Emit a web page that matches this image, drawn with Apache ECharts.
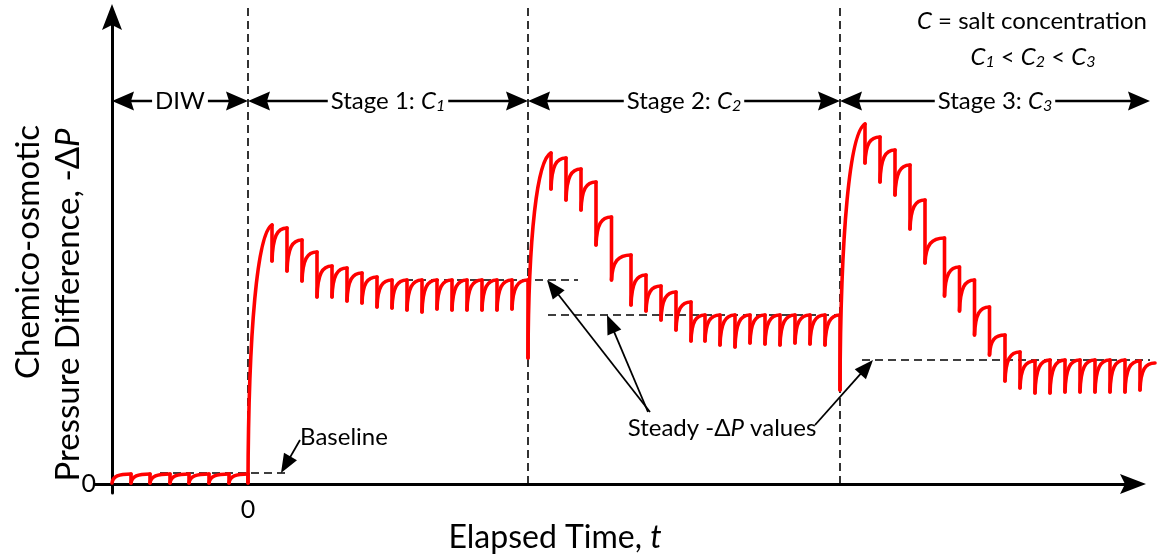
<!DOCTYPE html>
<html>
<head>
<meta charset="utf-8">
<script src="https://cdn.jsdelivr.net/npm/echarts@6/dist/echarts.min.js"></script>
<style>
  html, body { margin: 0; padding: 0; background: #fff; }
  #chart { width: 1160px; height: 560px; }
</style>
</head>
<body>
<div id="chart"></div>
<script>
// ---------------------------------------------------------------
// Chemico-osmotic pressure difference (-ΔP) against elapsed time.
// Time 0 = switch from de-ionised water (DIW) to the first salt solution.
// Each stage: a ramp up, then a saw-tooth of pressure releases that
// settles onto a steady -ΔP value.
// ---------------------------------------------------------------

// where the trace begins (start of the DIW period)
const curveStart = [-68, 0.5];

// DIW period: time of each release, value just before, value just after
const diwDropX   = [-58.5, -49, -39, -29.5, -19.5, -9.5, 0];
const diwPeak    = [5, 5, 5, 5, 5, 5, 5];
const diwTrough  = [0.5, 0.5, 0.5, 0.5, 0.5, 0.5, 0.5];

// Stage 1 (C1)
const s1DropX  = [12, 19.5, 27, 34.5, 42, 49.5, 57, 64.5, 72, 79.5, 87, 94.5, 102, 109.5, 117, 124.5, 132, 140];
const s1Peak   = [129.5, 128, 122, 116, 109, 108, 105.5, 103.5, 102, 102, 102, 102, 102, 102, 102, 102, 102, 102];
const s1Trough = [111.5, 106.5, 101.5, 93.5, 93.5, 91.5, 90.5, 88.5, 88, 87, 86, 87.5, 87, 87, 87, 87, 87.5, 63];

// Stage 2 (C2)
const s2DropX  = [151.5, 159, 166.5, 174, 181.75, 191.5, 199, 206.5, 214, 221.5, 228.5, 236, 243.5, 251, 258.5, 266, 273.5, 281, 288.5, 296];
const s2Peak   = [165.5, 163, 157.5, 151, 133.5, 114.5, 104.5, 99, 96, 91, 84.5, 84.5, 84.5, 84.5, 84.5, 84.5, 84.5, 84.5, 84.5, 84.5];
const s2Trough = [147.5, 142, 137, 119.5, 102, 89.5, 86.5, 82, 77, 71.5, 71.5, 69.5, 68.5, 70.5, 70, 69.5, 70.5, 70, 69.5, 47];

// Stage 3 (C3) – the last point is the end of the record
const s3DropX  = [308.5, 316, 323.5, 331, 338.5, 348.25, 355.75, 363.25, 370.75, 378.5, 386, 393.5, 401, 408.5, 416, 423.5, 431, 438.5, 446, 453.5];
const s3Peak   = [180, 173.5, 167, 159.5, 142, 123, 108.5, 102, 88.5, 74.5, 66, 61.5, 62, 62, 62, 62, 62, 62, 61.5, 60.5];
const s3Trough = [160.5, 151, 144.5, 127.5, 110.5, 94, 86.5, 74.5, 64.5, 51.5, 48, 45.5, 45.5, 46, 46, 46, 46, 46, 47];

// stage boundaries on the time axis and their labels
const stageBounds = [-68, 0, 140, 296, 451];
const stageNames  = ['DIW', 'Stage 1: ', 'Stage 2: ', 'Stage 3: '];
const stageConc   = ['', '1', '2', '3'];

// baseline and steady -ΔP values, with the time span of each dashed guide
const steadyValues = [5.5, 102, 84.5, 62];
const steadyFrom   = [-44, 78.5, 150, 307];
const steadyTo     = [21, 165, 294.5, 451];

// callout arrows: time at which each arrow touches its guide line
const pointerTipX  = [16.5, 149.5, 179.5, 312.5];

// axis tick labels
const xTickValues = [0];
const yTickValues = [0];

// ---------------------------------------------------------------
const FONT = 'Lato, "Open Sans", sans-serif';
const RED = '#ff0000';
const BLACK = '#000000';
const AXIS_ARROW = 'path://M0,0 L10,26 L0,21 L-10,26 Z';

// control-point fractions for the rising parts of the trace
const TOOTH_SHAPE = [0.05, 0.75, 0.35, 1.0];
const RAMP_SHAPE  = [0.02, 0.6, 0.4, 0.97];

// assemble the trace into rising segments, each followed by a sudden drop
const stages = [
  { x: diwDropX, peak: diwPeak, trough: diwTrough, ramp: false },
  { x: s1DropX,  peak: s1Peak,  trough: s1Trough,  ramp: true },
  { x: s2DropX,  peak: s2Peak,  trough: s2Trough,  ramp: true },
  { x: s3DropX,  peak: s3Peak,  trough: s3Trough,  ramp: true }
];
const segments = [];
(function () {
  let cur = curveStart.slice();
  stages.forEach(st => {
    st.x.forEach((x, i) => {
      const seg = { from: cur, to: [x, st.peak[i]], ramp: st.ramp && i === 0 };
      if (i < st.trough.length) {
        seg.dropTo = st.trough[i];
        cur = [x, st.trough[i]];
      }
      segments.push(seg);
    });
  });
})();

function renderTrace(params, api) {
  const children = [];
  const style = { stroke: RED, lineWidth: 3.6, fill: null, lineCap: 'round', lineJoin: 'round' };
  segments.forEach(sg => {
    const a = api.coord(sg.from);
    const b = api.coord(sg.to);
    const w = b[0] - a[0];
    const h = a[1] - b[1];
    const k = sg.ramp ? RAMP_SHAPE : TOOTH_SHAPE;
    children.push({
      type: 'bezierCurve',
      shape: {
        x1: a[0], y1: a[1],
        cpx1: a[0] + k[0] * w, cpy1: a[1] - k[1] * h,
        cpx2: a[0] + k[2] * w, cpy2: a[1] - k[3] * h,
        x2: b[0], y2: b[1]
      },
      style: style
    });
    if (sg.dropTo !== undefined) {
      const c = api.coord([sg.to[0], sg.dropTo]);
      children.push({ type: 'line', shape: { x1: b[0], y1: b[1], x2: c[0], y2: c[1] }, style: style });
    }
  });
  return { type: 'group', children: children };
}

function arrowHead(tip, dirX, dirY, len, half, notch) {
  const nx = -dirY, ny = dirX;
  const bx = tip[0] - dirX * len, by = tip[1] - dirY * len;
  const mx = tip[0] - dirX * (len - notch), my = tip[1] - dirY * (len - notch);
  return {
    type: 'polygon',
    shape: { points: [tip, [bx + nx * half, by + ny * half], [mx, my], [bx - nx * half, by - ny * half]] },
    style: { fill: BLACK }
  };
}

function renderNotes(params, api) {
  const children = [];
  const dashed = { stroke: BLACK, lineWidth: 1.6, lineDash: [8, 5], fill: null };
  const yZero = api.coord([0, 0])[1];
  const topY = 6;
  const arrowRowY = 101;

  // stage boundaries
  for (let i = 1; i < stageBounds.length - 1; i++) {
    const x = api.coord([stageBounds[i], 0])[0];
    children.push({ type: 'line', shape: { x1: x, y1: yZero, x2: x, y2: topY }, style: dashed });
  }

  // baseline and steady value guides
  steadyValues.forEach((v, i) => {
    const a = api.coord([steadyFrom[i], v]);
    const b = api.coord([steadyTo[i], v]);
    children.push({ type: 'line', shape: { x1: a[0], y1: a[1], x2: b[0], y2: b[1] }, style: dashed });
  });

  // stage spans with double-headed arrows
  for (let i = 0; i < stageNames.length; i++) {
    const xa = api.coord([stageBounds[i], 0])[0];
    const xb = api.coord([stageBounds[i + 1], 0])[0];
    children.push({ type: 'line', shape: { x1: xa + 10, y1: arrowRowY, x2: xb - 10, y2: arrowRowY },
      style: { stroke: BLACK, lineWidth: 2.6 } });
    children.push(arrowHead([xa, arrowRowY], -1, 0, 22, 9.5, 3));
    children.push(arrowHead([xb, arrowRowY], 1, 0, 22, 9.5, 3));
    const txt = stageConc[i] ? stageNames[i] + '{c|C}{s|' + stageConc[i] + '}' : stageNames[i];
    children.push({
      type: 'text', x: (xa + xb) / 2, y: arrowRowY, z2: 10,
      style: {
        text: txt, fill: BLACK, fontSize: 24, fontFamily: FONT, lineHeight: 26,
        align: 'center', verticalAlign: 'middle', backgroundColor: '#fff', padding: [0, 3],
        rich: {
          c: { fontSize: 24, fontFamily: FONT, fontStyle: 'italic', lineHeight: 26, fill: BLACK },
          s: { fontSize: 16, fontFamily: FONT, fontStyle: 'italic', lineHeight: 10, verticalAlign: 'bottom', fill: BLACK }
        }
      }
    });
  }

  // callout arrows from the annotation texts
  const tails = [[300, 440], [650, 412], [648, 412], [815, 425]];
  pointerTipX.forEach((x, i) => {
    const tip = api.coord([x, steadyValues[i]]);
    const t = tails[i];
    const dx = tip[0] - t[0], dy = tip[1] - t[1];
    const L = Math.sqrt(dx * dx + dy * dy);
    const ux = dx / L, uy = dy / L;
    children.push({ type: 'line', shape: { x1: t[0], y1: t[1], x2: tip[0] - ux * 12, y2: tip[1] - uy * 12 },
      style: { stroke: BLACK, lineWidth: 1.8 } });
    children.push(arrowHead(tip, ux, uy, 19, 7.5, 0));
  });

  return { type: 'group', children: children };
}

const textBase = { fill: BLACK, fontFamily: FONT };

const option = {
  animation: false,
  backgroundColor: '#fff',
  grid: { left: 95, right: 27, top: 17, bottom: 67, outerBoundsMode: 'none' },
  xAxis: {
    type: 'value', min: -76.5, max: 442.5,
    axisLine: { onZero: true, symbol: ['none', AXIS_ARROW], symbolSize: [20, 26],
      lineStyle: { color: BLACK, width: 3 } },
    axisTick: { show: false },
    splitLine: { show: false },
    axisLabel: { customValues: xTickValues, color: BLACK, fontSize: 25, fontFamily: FONT, margin: 4 }
  },
  yAxis: {
    type: 'value', min: -4.5, max: 233.5, offset: -17,
    axisLine: { show: true, onZero: false, symbol: ['none', AXIS_ARROW], symbolSize: [20, 26],
      lineStyle: { color: BLACK, width: 3 } },
    axisTick: { show: false },
    splitLine: { show: false },
    axisLabel: { customValues: yTickValues, color: BLACK, fontSize: 25, fontFamily: FONT, margin: 16 }
  },
  series: [
    { type: 'custom', name: 'annotations', coordinateSystem: 'cartesian2d', renderItem: renderNotes,
      data: [[0, 0]], silent: true, clip: false, z: 2 },
    { type: 'custom', name: '-ΔP', coordinateSystem: 'cartesian2d', renderItem: renderTrace,
      data: [[0, 0]], silent: true, clip: false, z: 3 }
  ],
  graphic: [
    { type: 'text', x: 28, y: 252, rotation: Math.PI / 2,
      style: Object.assign({ text: 'Chemico-osmotic', fontSize: 33, align: 'center', verticalAlign: 'middle' }, textBase) },
    { type: 'text', x: 68, y: 305, rotation: Math.PI / 2,
      style: Object.assign({ text: 'Pressure Difference, -Δ{i|P}', fontSize: 33, align: 'center', verticalAlign: 'middle',
        rich: { i: { fontSize: 33, fontFamily: FONT, fontStyle: 'italic', fill: BLACK } } }, textBase) },
    { type: 'text', x: 555, y: 538,
      style: Object.assign({ text: 'Elapsed Time, {i|t}', fontSize: 32, align: 'center', verticalAlign: 'middle',
        rich: { i: { fontSize: 32, fontFamily: FONT, fontStyle: 'italic', fill: BLACK } } }, textBase) },
    { type: 'text', x: 1032, y: 21,
      style: Object.assign({ text: '{i|C} = salt concentration', fontSize: 24, align: 'center', verticalAlign: 'middle',
        rich: { i: { fontSize: 24, fontFamily: FONT, fontStyle: 'italic', fill: BLACK } } }, textBase) },
    { type: 'text', x: 1033, y: 57,
      style: Object.assign({ text: '{i|C}{s|1} < {i|C}{s|2} < {i|C}{s|3}', fontSize: 24, lineHeight: 26, align: 'center', verticalAlign: 'middle',
        rich: {
          i: { fontSize: 24, fontFamily: FONT, fontStyle: 'italic', lineHeight: 26, fill: BLACK },
          s: { fontSize: 16, fontFamily: FONT, fontStyle: 'italic', lineHeight: 10, verticalAlign: 'bottom', fill: BLACK }
        } }, textBase) },
    { type: 'text', x: 344, y: 437,
      style: Object.assign({ text: 'Baseline', fontSize: 24, align: 'center', verticalAlign: 'middle' }, textBase) },
    { type: 'text', x: 722, y: 428,
      style: Object.assign({ text: 'Steady -Δ{i|P} values', fontSize: 24, align: 'center', verticalAlign: 'middle',
        rich: { i: { fontSize: 24, fontFamily: FONT, fontStyle: 'italic', fill: BLACK } } }, textBase) }
  ]
};

const chart = echarts.init(document.getElementById('chart'), null, { renderer: 'canvas' });
chart.setOption(option);
</script>
</body>
</html>
